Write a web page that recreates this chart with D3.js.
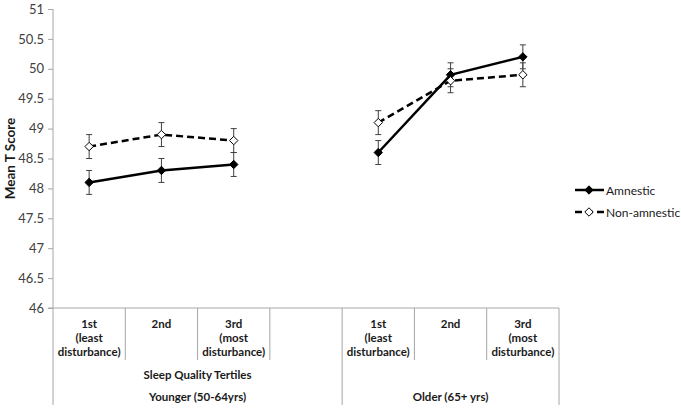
<!DOCTYPE html>
<html><head><meta charset="utf-8">
<script src="https://cdn.jsdelivr.net/npm/d3@7"></script>
<style>body{margin:0;background:#fff}svg{display:block;font-family:Lato,"Open Sans",sans-serif}</style>
</head><body><svg id="c" width="681" height="408"></svg>
<script>
const categories = ["Y1","Y2","Y3","gap","O1","O2","O3"];
const catLabels = [["1st","(least","disturbance)"],["2nd"],["3rd","(most","disturbance)"],[],["1st","(least","disturbance)"],["2nd"],["3rd","(most","disturbance)"]];
const amnestic = [48.1,48.3,48.4,null,48.6,49.9,50.2];
const nonAmnestic = [48.7,48.9,48.8,null,49.1,49.8,49.9];
const amnesticErr = [0.2,0.2,0.2,null,0.2,0.2,0.2];
const nonAmnesticErr = [0.2,0.2,0.2,null,0.2,0.2,0.2];
const yTicks = [46,46.5,47,47.5,48,48.5,49,49.5,50,50.5,51];
const seriesNames = ["Amnestic","Non-amnestic"];

const svg = d3.select("#c");
const pLeft = 53, pRight = 559, pTop = 9, pBottom = 308;
const x = d3.scaleBand().domain(categories).range([pLeft,pRight]).padding(0);
const y = d3.scaleLinear().domain([46,51]).range([pBottom,pTop]);
const axisColor = "#a6a6a6";

// y axis
const yAxis = d3.axisLeft(y).tickValues(yTicks).tickSize(5).tickPadding(4).tickFormat(d=>String(d));
const ga = svg.append("g").attr("transform",`translate(${pLeft},0)`).call(yAxis);
ga.select(".domain").remove();
ga.selectAll(".tick line").attr("stroke",axisColor);
ga.selectAll(".tick text").attr("font-size",13).attr("fill","#404040").attr("font-family","Lato, sans-serif");
svg.append("line").attr("x1",pLeft).attr("x2",pLeft).attr("y1",pTop).attr("y2",405).attr("stroke",axisColor);

// x axis line
svg.append("line").attr("x1",pLeft-5).attr("x2",pRight).attr("y1",pBottom).attr("y2",pBottom).attr("stroke",axisColor);
// category separators
categories.forEach((c,i)=>{
  if(i===0) return;
  const xx = x(c);
  const full = (c==="O1");
  svg.append("line").attr("x1",xx).attr("x2",xx).attr("y1",pBottom).attr("y2",full?405:360).attr("stroke",axisColor);
});
svg.append("line").attr("x1",pRight).attr("x2",pRight).attr("y1",pBottom).attr("y2",405).attr("stroke",axisColor);

// category labels
categories.forEach((c,i)=>{
  catLabels[i].forEach((t,j)=>{
    svg.append("text").attr("x",x(c)+x.bandwidth()/2).attr("y",328+j*14)
      .attr("text-anchor","middle").attr("font-size",11.5).attr("font-weight","bold").attr("fill","#1a1a1a").text(t);
  });
});
const yMid = (x("Y1")+x("gap")+x.bandwidth())/2;
svg.append("text").attr("x",yMid).attr("y",379).attr("text-anchor","middle")
  .attr("font-size",11.5).attr("font-weight","bold").attr("fill","#1a1a1a").text("Sleep Quality Tertiles");
svg.append("text").attr("x",yMid).attr("y",401).attr("text-anchor","middle")
  .attr("font-size",11.5).attr("font-weight","bold").attr("fill","#1a1a1a").text("Younger (50-64yrs)");
svg.append("text").attr("x",(x("O1")+pRight)/2).attr("y",401).attr("text-anchor","middle")
  .attr("font-size",11.5).attr("font-weight","bold").attr("fill","#1a1a1a").text("Older (65+ yrs)");

// y title
svg.append("text").attr("transform",`translate(15,${(pTop+pBottom)/2}) rotate(-90)`).attr("text-anchor","middle")
  .attr("font-size",13.5).attr("font-weight","bold").attr("fill","#1a1a1a").text("Mean T Score");

const cx = c => x(c)+x.bandwidth()/2;
const series = [
  {name:seriesNames[0],vals:amnestic,err:amnesticErr,dash:null,fill:"#000"},
  {name:seriesNames[1],vals:nonAmnestic,err:nonAmnesticErr,dash:"7,4",fill:"#fff"}
];
const diamond = d3.symbol().type(d3.symbolDiamond2).size(45);
const groups = [["Y1","Y2","Y3"],["O1","O2","O3"]];
series.forEach(s=>{
  categories.forEach((c,i)=>{
    if(s.vals[i]==null) return;
    const g = svg.append("g").attr("stroke","#404040").attr("stroke-width",1);
    g.append("line").attr("x1",cx(c)).attr("x2",cx(c)).attr("y1",y(s.vals[i]-s.err[i])).attr("y2",y(s.vals[i]+s.err[i]));
    [s.vals[i]-s.err[i],s.vals[i]+s.err[i]].forEach(v=>{
      g.append("line").attr("x1",cx(c)-3).attr("x2",cx(c)+3).attr("y1",y(v)).attr("y2",y(v));
    });
  });
});
series.forEach(s=>{
  groups.forEach(gr=>{
    const pts = gr.map(c=>[cx(c),y(s.vals[categories.indexOf(c)])]);
    svg.append("path").attr("d",d3.line()(pts)).attr("fill","none").attr("stroke","#000").attr("stroke-width",2.5)
      .attr("stroke-dasharray",s.dash);
  });
  categories.forEach((c,i)=>{
    if(s.vals[i]==null) return;
    svg.append("path").attr("d",diamond()).attr("transform",`translate(${cx(c)},${y(s.vals[i])})`)
      .attr("fill",s.fill).attr("stroke","#000").attr("stroke-width",1);
  });
});

// legend
series.forEach((s,i)=>{
  const ly = 190 + i*22;
  svg.append("line").attr("x1",575).attr("x2",604).attr("y1",ly).attr("y2",ly).attr("stroke","#000").attr("stroke-width",2.5).attr("stroke-dasharray",s.dash);
  svg.append("path").attr("d",diamond()).attr("transform",`translate(589,${ly})`).attr("fill",s.fill).attr("stroke","#000");
  svg.append("text").attr("x",606).attr("y",ly+4.5).attr("font-size",12).attr("fill","#1a1a1a").text(s.name);
});
</script></body></html>
